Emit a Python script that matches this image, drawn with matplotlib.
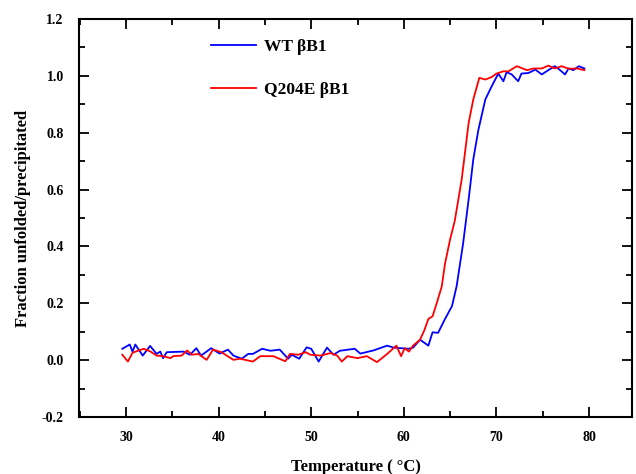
import matplotlib
matplotlib.use("Agg")
import matplotlib.pyplot as plt
from matplotlib.ticker import MultipleLocator

plt.rcParams['font.family'] = ['Liberation Serif', 'DejaVu Serif']
plt.rcParams['font.weight'] = 'bold'

wt_T = [29.6, 30.4, 30.7, 31.0, 31.8, 32.6, 33.3, 33.7, 34.0, 34.4, 36.2, 36.9, 37.6, 38.1,
        39.2, 40.1, 41.0, 41.6, 42.5, 43.2, 43.7, 44.7, 45.6, 46.6, 47.5, 47.9, 48.7, 49.5,
        50.0, 50.8, 51.7, 52.4, 53.1, 54.7, 55.3, 56.7, 58.2, 58.9, 60.5, 61.0, 61.75, 62.65,
        63.1, 63.7, 64.45, 65.2, 65.7, 66.4, 67.0, 67.5, 68.05, 68.8, 69.5, 70.2, 70.75, 71.1,
        71.65, 72.35, 72.7, 73.45, 74.2, 74.9, 75.6, 76.3, 76.7, 77.4, 77.8, 78.3, 78.9, 79.5]
wt_v = [0.040, 0.055, 0.030, 0.055, 0.016, 0.050, 0.022, 0.030, 0.007, 0.028, 0.030, 0.019,
        0.042, 0.016, 0.042, 0.023, 0.037, 0.016, 0.005, 0.022, 0.022, 0.040, 0.033, 0.037,
        0.005, 0.019, 0.005, 0.045, 0.040, -0.005, 0.044, 0.019, 0.033, 0.040, 0.023, 0.034,
        0.051, 0.044, 0.040, 0.044, 0.072, 0.051, 0.098, 0.096, 0.145, 0.190, 0.260, 0.410,
        0.566, 0.706, 0.810, 0.917, 0.964, 1.008, 0.981, 1.013, 1.005, 0.981, 1.008, 1.010,
        1.022, 1.005, 1.020, 1.034, 1.025, 1.005, 1.026, 1.020, 1.034, 1.026]

mut_T = [29.6, 30.2, 30.7, 31.9, 32.6, 33.3, 34.0, 34.8, 35.1, 36.0, 36.6, 37.1, 37.8, 38.7,
         39.4, 40.3, 41.6, 42.3, 43.7, 44.5, 45.9, 47.2, 47.7, 48.6, 49.4, 49.9, 51.0, 52.1,
         52.8, 53.3, 53.9, 55.0, 56.0, 57.1, 58.2, 59.2, 59.7, 60.1, 60.55, 61.0, 61.75, 62.2,
         62.65, 63.1, 63.55, 64.1, 64.45, 65.0, 65.5, 66.25, 67.0, 67.5, 68.15, 68.8, 69.5,
         70.0, 70.75, 71.3, 72.2, 73.3, 74.0, 74.9, 75.6, 76.3, 77.05, 77.8, 78.7, 79.5]
mut_v = [0.019, -0.005, 0.026, 0.040, 0.031, 0.016, 0.014, 0.007, 0.014, 0.016, 0.034, 0.019,
         0.022, 0.001, 0.037, 0.028, 0.001, 0.005, -0.005, 0.014, 0.014, -0.004, 0.022, 0.019,
         0.028, 0.019, 0.016, 0.025, 0.016, -0.005, 0.014, 0.007, 0.014, -0.007, 0.022, 0.051,
         0.014, 0.042, 0.030, 0.051, 0.072, 0.104, 0.145, 0.154, 0.200, 0.260, 0.340, 0.425,
         0.490, 0.636, 0.835, 0.917, 0.993, 0.987, 0.996, 1.008, 1.016, 1.016, 1.034, 1.020,
         1.026, 1.026, 1.036, 1.026, 1.034, 1.025, 1.026, 1.020]

labels = ["WT \u03b2B1", "Q204E \u03b2B1"]
x_ticks = [30, 40, 50, 60, 70, 80]
y_ticks = [-0.2, 0.0, 0.2, 0.4, 0.6, 0.8, 1.0, 1.2]

fig = plt.figure(figsize=(6.36, 4.74), dpi=100)
ax = fig.add_axes([79/636, 1 - 417/474, (632-79)/636, (417-19)/474])

ax.plot(wt_T, wt_v, color='#0000ff', lw=1.3, label=labels[0])
ax.plot(mut_T, mut_v, color='#ff0000', lw=1.3, label=labels[1])

ax.set_xlim(24.92, 84.64)
ax.set_ylim(-0.2, 1.2)
ax.set_xticks(x_ticks)
ax.set_yticks(y_ticks)
ax.set_yticklabels([f"{v:.1f}" for v in y_ticks])
ax.xaxis.set_minor_locator(MultipleLocator(5))
ax.yaxis.set_minor_locator(MultipleLocator(0.1))
ax.tick_params(which='both', direction='in', top=True, right=True, width=1.3)
ax.tick_params(which='major', length=7, labelsize=10)
ax.tick_params(axis='x', which='major', pad=10)
ax.tick_params(axis='y', which='major', pad=11)
ax.tick_params(which='minor', length=4)
for lab in ax.get_xticklabels() + ax.get_yticklabels():
    lab.set_fontweight('bold')
for s in ax.spines.values():
    s.set_linewidth(1.5)

ax.set_xlabel("Temperature ( \u00b0C)", fontsize=12, fontweight='bold', labelpad=11)
ax.set_ylabel("Fraction unfolded/precipitated", fontsize=12, fontweight='bold', labelpad=8)

ax.legend(loc='upper left', bbox_to_anchor=(0.211, 0.99), frameon=False,
          handlelength=2.6, handletextpad=0.45, labelspacing=1.55,
          prop={'family': 'Liberation Serif', 'weight': 'bold', 'size': 12.5})

fig.savefig("out.png", dpi=100)
